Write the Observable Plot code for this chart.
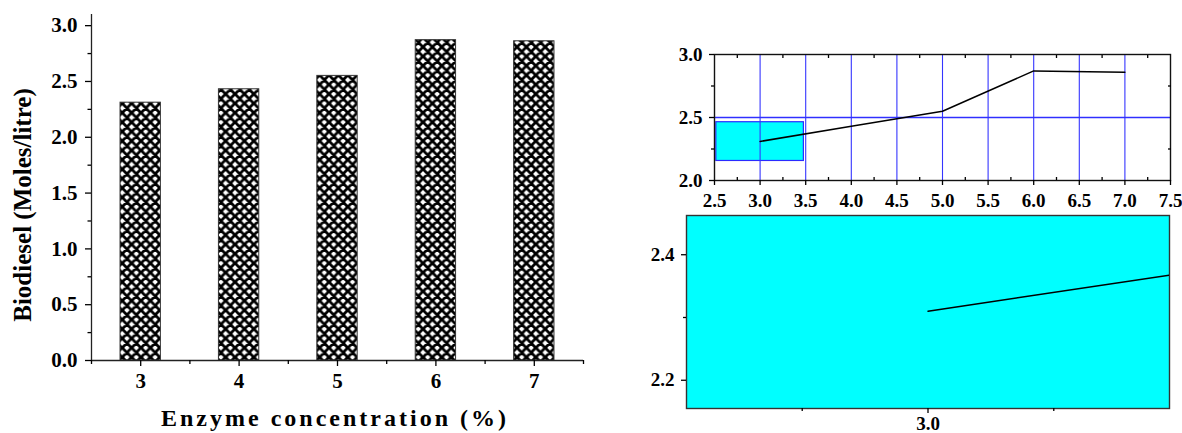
<!DOCTYPE html>
<html>
<head>
<meta charset="utf-8">
<script src="https://cdn.jsdelivr.net/npm/d3@7"></script>
<script src="https://cdn.jsdelivr.net/npm/@observablehq/plot@0.6"></script>
<style>
  html, body { margin: 0; padding: 0; background: #fff; }
  #stage { position: relative; width: 1182px; height: 433px; overflow: hidden; background: #fff; }
  #stage > svg { position: absolute; }
  #stage svg text { font-family: "Liberation Serif", "Times New Roman", serif !important; font-weight: bold !important; }
</style>
</head>
<body>
<div id="stage"></div>
<script>
// ---------------- data ----------------
const concentration = [3, 4, 5, 6, 7];
const biodiesel = [2.31, 2.43, 2.55, 2.87, 2.86];

// bar chart ticks
const barTicksY = [0, 0.5, 1.0, 1.5, 2.0, 2.5, 3.0];
const barMinorY = [0.25, 0.75, 1.25, 1.75, 2.25, 2.75];
const barTicksX = [3, 4, 5, 6, 7];
const barMinorX = [2.5, 3.5, 4.5, 5.5, 6.5, 7.5];

// line chart ticks / grid
const lineTicksX = [2.5, 3.0, 3.5, 4.0, 4.5, 5.0, 5.5, 6.0, 6.5, 7.0, 7.5];
const lineMinorX = [2.75, 3.25, 3.75, 4.25, 4.75, 5.25, 5.75, 6.25, 6.75, 7.25];
const lineTicksY = [2.0, 2.5, 3.0];
const lineMinorY = [2.25, 2.75];
const gridX = [3.0, 3.5, 4.0, 4.5, 5.0, 5.5, 6.0, 6.5, 7.0];
const gridY = [2.5];

// zoom window (shown as cyan box, enlarged below)
const zoomX = [2.52, 3.48];
const zoomY = [2.155, 2.4625];
const zoomTicksX = [3.0];
const zoomMinorX = [2.75, 3.25];
const zoomTicksY = [2.2, 2.4];
const zoomMinorY = [2.3];

const rows = concentration.map((c, i) => ({c, v: biodiesel[i]}));
const f1 = d3.format(".1f");
const serif = "Liberation Serif, Times New Roman, serif";
const none = () => "";

const stage = document.getElementById("stage");

// hatch pattern definition
const s = 9.4;
const defs = document.createElementNS("http://www.w3.org/2000/svg", "svg");
defs.setAttribute("width", 0); defs.setAttribute("height", 0);
defs.innerHTML = `<defs><pattern id="xhatch" patternUnits="userSpaceOnUse" width="${s}" height="${s}">
<rect width="${s}" height="${s}" fill="#fff"/>
<path d="M0,0L${s},${s}M${s},0L0,${s}M-2,2L2,-2M${s-2},${s+2}L${s+2},${s-2}M-2,${s-2}L2,${s+2}M${s-2},-2L${s+2},2" stroke="#000" stroke-width="2.8" fill="none"/>
</pattern></defs>`;
stage.appendChild(defs);

function place(svg, left, top) {
  svg.style.left = left + "px";
  svg.style.top = top + "px";
  svg.querySelectorAll("text").forEach(t => {
    t.setAttribute("font-family", serif);
    t.setAttribute("font-weight", "bold");
  });
  stage.appendChild(svg);
}

const baseStyle = (size) => ({fontFamily: serif, fontWeight: "bold", fontSize: size, color: "#000", background: "transparent", overflow: "visible"});

// ---------------- left: bar chart ----------------
const bar = Plot.plot({
  width: 600, height: 433,
  marginLeft: 91, marginRight: 17, marginTop: 14, marginBottom: 73,
  x: {domain: [2.5, 7.5]},
  y: {domain: [0, 3.1]},
  style: baseStyle("21px"),
  marks: [
    Plot.rectY(rows, {x1: d => d.c - 0.205, x2: d => d.c + 0.205, y1: 0, y2: "v", fill: "url(#xhatch)", stroke: "#333", strokeWidth: 1}),
    Plot.ruleX([2.5], {stroke: "#222", strokeWidth: 1.3}),
    Plot.ruleY([0], {stroke: "#222", strokeWidth: 1.3}),
    Plot.axisY({ticks: barTicksY, tickSize: 6, tickPadding: 8, tickFormat: f1, label: null, strokeWidth: 1.3}),
    Plot.axisY({ticks: barMinorY, tickSize: 3.5, tickFormat: none, label: null, strokeWidth: 1.3}),
    Plot.axisX({ticks: barTicksX, tickSize: 6, tickPadding: 7, tickFormat: d => String(d), label: null, fontSize: 21, strokeWidth: 1.3}),
    Plot.axisX({ticks: barMinorX, tickSize: 4, tickFormat: none, label: null, strokeWidth: 1.3})
  ]
});
place(bar, 0, 0);

// ---------------- right top: line chart ----------------
const line = Plot.plot({
  width: 542, height: 180,
  marginLeft: 74, marginRight: 12, marginTop: 24, marginBottom: 30,
  x: {domain: [2.5, 7.5]},
  y: {domain: [2.0, 3.0]},
  style: baseStyle("19px"),
  marks: [
    Plot.rect([{}], {x1: zoomX[0], x2: zoomX[1], y1: zoomY[0], y2: zoomY[1], fill: "#00ffff", stroke: "#2b2bff", strokeWidth: 1.2}),
    Plot.ruleX(gridX, {stroke: "#3535ff", strokeWidth: 1.1}),
    Plot.ruleY(gridY, {stroke: "#3030ff", strokeWidth: 1.3}),
    Plot.line(rows, {x: "c", y: "v", stroke: "#000", strokeWidth: 1.5}),
    Plot.frame({stroke: "#111", strokeWidth: 1.4}),
    Plot.axisY({ticks: lineTicksY, tickSize: 5, tickPadding: 7, tickFormat: f1, label: null, strokeWidth: 1.3}),
    Plot.axisY({ticks: lineMinorY, tickSize: 3, tickFormat: none, label: null, strokeWidth: 1.3}),
    Plot.axisX({ticks: lineTicksX, tickSize: 5, tickPadding: 8, tickFormat: f1, label: null, strokeWidth: 1.3}),
    Plot.axisX({ticks: lineMinorX, tickSize: 3, dy: -3, tickFormat: none, label: null, strokeWidth: 1.3}),
    Plot.axisX({anchor: "top", ticks: lineMinorX, tickSize: 3, dy: 3, tickFormat: none, label: null, strokeWidth: 1.3}),
    Plot.axisY({anchor: "right", ticks: lineMinorY, tickSize: 3, dx: -3, tickFormat: none, label: null, strokeWidth: 1.3})
  ]
});
place(line, 640, 30);

// ---------------- right bottom: zoomed inset ----------------
const inset = Plot.plot({
  width: 582, height: 233,
  marginLeft: 86, marginRight: 13, marginTop: 15, marginBottom: 25,
  x: {domain: zoomX},
  y: {domain: zoomY},
  style: baseStyle("19px"),
  marks: [
    Plot.frame({fill: "#00ffff", stroke: "#333", strokeWidth: 1.4}),
    Plot.line(rows, {x: "c", y: "v", stroke: "#000", strokeWidth: 1.5, clip: true}),
    Plot.axisY({ticks: zoomTicksY, tickSize: 5, tickPadding: 7, tickFormat: f1, label: null, strokeWidth: 1.3}),
    Plot.axisY({ticks: zoomMinorY, tickSize: 3, tickFormat: none, label: null, strokeWidth: 1.3}),
    Plot.axisX({ticks: zoomTicksX, tickSize: 5, tickPadding: 3, tickFormat: f1, label: null, strokeWidth: 1.3}),
    Plot.axisX({ticks: zoomMinorX, tickSize: 3, tickFormat: none, label: null, strokeWidth: 1.3})
  ]
});
place(inset, 600, 200);

// ---------------- axis titles (real text) ----------------
const titles = document.createElementNS("http://www.w3.org/2000/svg", "svg");
titles.setAttribute("width", 1182); titles.setAttribute("height", 433);
titles.innerHTML = `
<text x="335" y="426" text-anchor="middle" font-size="24" letter-spacing="3" fill="#000">Enzyme concentration (%)</text>
<text transform="translate(31,205) rotate(-90)" text-anchor="middle" font-size="25" fill="#000">Biodiesel (Moles/litre)</text>`;
place(titles, 0, 0);
</script>
</body>
</html>
